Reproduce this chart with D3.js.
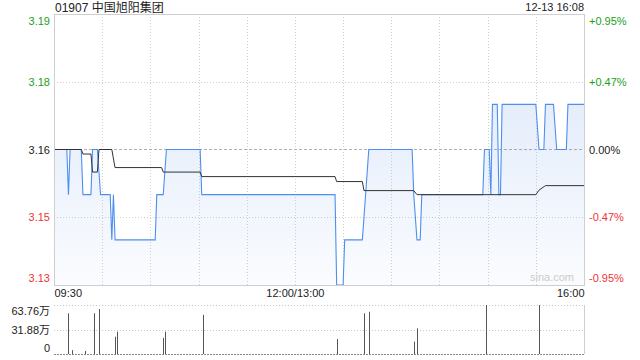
<!DOCTYPE html>
<html>
<head>
<meta charset="utf-8">
<script src="https://cdn.jsdelivr.net/npm/d3@7/dist/d3.min.js"></script>
<style>
  html, body { margin: 0; padding: 0; background: #fff; }
  svg { display: block; font-family: "Liberation Sans", Arial, sans-serif; }
  .tick line { display: none; }
</style>
</head>
<body>
<div class="chart"></div>
<script>
// minutes from 09:30 (lunch break removed, 330 = 16:00)
const priceTimes = [0, 8, 9, 10, 17, 18, 23, 24, 27, 29, 35, 36, 37, 38, 63, 64, 68, 70, 91, 92,
  175, 176, 180, 181, 192, 194, 196, 223, 224, 226, 228, 229, 267, 268, 271, 272, 273, 276,
  277, 278, 279, 300, 302, 305, 306, 311, 313, 319, 320, 330];
const priceValues = [3.16, 3.16, 3.15, 3.16, 3.16, 3.15, 3.15, 3.16, 3.16, 3.15, 3.15, 3.14, 3.15, 3.14, 3.14, 3.15, 3.15, 3.16, 3.16, 3.15,
  3.15, 3.13, 3.13, 3.14, 3.14, 3.15, 3.16, 3.16, 3.15, 3.14, 3.14, 3.15, 3.15, 3.16, 3.16, 3.15, 3.17, 3.17,
  3.15, 3.15, 3.17, 3.17, 3.16, 3.16, 3.17, 3.17, 3.16, 3.16, 3.17, 3.17];

const avgTimes = [0, 17, 18, 23, 24, 27, 28, 36, 38, 67, 68, 91, 92, 175, 176, 192, 193, 224, 226, 300, 302, 306, 330];
const avgValues = [3.16, 3.16, 3.159, 3.159, 3.155, 3.155, 3.16, 3.16, 3.156, 3.156, 3.155, 3.155, 3.154, 3.154, 3.1529, 3.1529, 3.1509, 3.1509, 3.15, 3.15, 3.151, 3.152, 3.152];

// volume in 万 shares
const volumeTimes = [9, 11, 19, 25, 28, 38, 39, 68, 69, 93, 176, 193, 196, 224, 226, 269, 302];
const volumeValues = [53, 5, 4, 53, 58.6, 22.5, 29, 21, 29, 51, 19.5, 53, 55, 16, 33.4, 63.76, 63.6];

const priceTicks = [3.19, 3.175, 3.16, 3.145, 3.13];
const priceTickLabels = ['3.19', '3.18', '3.16', '3.15', '3.13'];
const pctTickLabels = ['+0.95%', '+0.47%', '0.00%', '-0.47%', '-0.95%'];
const timeTicks = [0, 150, 330];
const timeTickLabels = ['09:30', '12:00/13:00', '16:00'];
const volumeTicks = [63.76, 31.88, 0];
const volumeTickLabels = ['63.76万', '31.88万', '0'];

const title = '01907 中国旭阳集团';
const stamp = '12-13 16:08';

const width = 640;
const height = 360;
const plotLeft = 54;
const plotRight = 584;
const plotTop = 14;
const plotBottom = 285;
const volTop = 305;
const volBottom = 354;

const green = '#1a9f1a';
const red = '#f03535';
const labelColor = (i) => (i < 2 ? green : i > 2 ? red : '#222');

const svg = d3
  .select('.chart')
  .append('svg')
  .attr('width', width)
  .attr('height', height);

const x = d3.scaleLinear().domain([0, 330]).range([plotLeft, plotRight]);
const y = d3.scaleLinear().domain([3.13, 3.19]).range([plotBottom, plotTop]);
const yv = d3.scaleLinear().domain([0, 63.76]).range([volBottom, volTop]);

// fill gradient
const grad = svg
  .append('defs')
  .append('linearGradient')
  .attr('id', 'fillGrad')
  .attr('gradientUnits', 'userSpaceOnUse')
  .attr('x1', 0).attr('x2', 0)
  .attr('y1', plotTop).attr('y2', plotBottom);
grad.append('stop').attr('offset', 0).attr('stop-color', '#5a8fe6').attr('stop-opacity', 0.22);
grad.append('stop').attr('offset', 1).attr('stop-color', '#5a8fe6').attr('stop-opacity', 0.03);

// grid
const grid = svg.append('g');
d3.range(30, 330, 30).forEach((m) => {
  grid.append('line')
    .attr('x1', Math.round(x(m)) + 0.5).attr('x2', Math.round(x(m)) + 0.5)
    .attr('y1', plotTop).attr('y2', plotBottom)
    .attr('stroke', '#d0d0d0').attr('stroke-dasharray', '1,2');
});
[3.175, 3.145].forEach((p) => {
  grid.append('line')
    .attr('x1', plotLeft).attr('x2', plotRight)
    .attr('y1', Math.round(y(p)) + 0.5).attr('y2', Math.round(y(p)) + 0.5)
    .attr('stroke', '#d0d0d0').attr('stroke-dasharray', '1,2');
});
grid.append('line')
  .attr('x1', plotLeft).attr('x2', plotRight)
  .attr('y1', Math.round(y(3.16)) + 0.5).attr('y2', Math.round(y(3.16)) + 0.5)
  .attr('stroke', '#b0b0b0').attr('stroke-dasharray', '3,2');

const pricePts = priceTimes.map((t, i) => [t, priceValues[i]]);
const avgPts = avgTimes.map((t, i) => [t, avgValues[i]]);

svg.append('path')
  .datum(pricePts)
  .attr('fill', 'url(#fillGrad)')
  .attr('d', d3.area().x((d) => x(d[0])).y0(plotBottom).y1((d) => y(d[1])));

svg.append('path')
  .datum(pricePts)
  .attr('fill', 'none')
  .attr('stroke', '#4d8ff0')
  .attr('stroke-width', 1.1)
  .attr('d', d3.line().x((d) => x(d[0])).y((d) => y(d[1])));

svg.append('path')
  .datum(avgPts)
  .attr('fill', 'none')
  .attr('stroke', '#333')
  .attr('stroke-width', 1)
  .attr('d', d3.line().x((d) => x(d[0])).y((d) => y(d[1])));

// frame
svg.append('rect')
  .attr('x', plotLeft + 0.5).attr('y', plotTop + 0.5)
  .attr('width', plotRight - plotLeft).attr('height', plotBottom - plotTop)
  .attr('fill', 'none').attr('stroke', '#cfcfcf');

svg.append('text')
  .attr('x', plotRight - 10).attr('y', plotBottom - 4)
  .attr('text-anchor', 'end')
  .attr('font-size', 11)
  .attr('fill', '#cccccc')
  .text('sina.com');

// price axes
const leftAxis = svg.append('g')
  .attr('transform', `translate(${plotLeft},0)`)
  .call(d3.axisLeft(y).tickValues(priceTicks).tickFormat((d, i) => priceTickLabels[i]).tickSize(0).tickPadding(4));
leftAxis.select('.domain').remove();
leftAxis.selectAll('text')
  .attr('font-size', 11)
  .attr('font-family', '"Liberation Sans", Arial, sans-serif')
  .attr('fill', (d, i) => labelColor(i))
  .attr('dy', (d, i) => (i === 0 ? '0.95em' : i === 4 ? '-0.3em' : '0.32em'));

const rightAxis = svg.append('g')
  .attr('transform', `translate(${plotRight},0)`)
  .call(d3.axisRight(y).tickValues(priceTicks).tickFormat((d, i) => pctTickLabels[i]).tickSize(0).tickPadding(5));
rightAxis.select('.domain').remove();
rightAxis.selectAll('text')
  .attr('font-size', 11)
  .attr('font-family', '"Liberation Sans", Arial, sans-serif')
  .attr('fill', (d, i) => labelColor(i))
  .attr('dy', (d, i) => (i === 0 ? '0.95em' : i === 4 ? '-0.3em' : '0.32em'));

const timeAxis = svg.append('g')
  .attr('transform', `translate(0,${plotBottom})`)
  .call(d3.axisBottom(x).tickValues(timeTicks).tickFormat((d, i) => timeTickLabels[i]).tickSize(0).tickPadding(4));
timeAxis.select('.domain').remove();
timeAxis.selectAll('text')
  .attr('font-size', 11)
  .attr('font-family', '"Liberation Sans", Arial, sans-serif')
  .attr('fill', '#222')
  .attr('text-anchor', (d, i) => (i === 0 ? 'start' : i === 2 ? 'end' : 'middle'));

// volume panel
[volTop, (volTop + volBottom) / 2].forEach((yy) => {
  svg.append('line')
    .attr('x1', plotLeft).attr('x2', plotRight)
    .attr('y1', Math.round(yy) + 0.5).attr('y2', Math.round(yy) + 0.5)
    .attr('stroke', '#c8c8c8').attr('stroke-dasharray', '1,2');
});
svg.append('line')
  .attr('x1', plotLeft).attr('x2', plotRight)
  .attr('y1', volBottom + 0.5).attr('y2', volBottom + 0.5)
  .attr('stroke', '#888').attr('stroke-dasharray', '2,1');
svg.append('line')
  .attr('x1', plotRight + 0.5).attr('x2', plotRight + 0.5)
  .attr('y1', volTop).attr('y2', volBottom)
  .attr('stroke', '#cfcfcf');

svg.append('g')
  .selectAll('rect')
  .data(volumeTimes.map((t, i) => [t, volumeValues[i]]))
  .enter()
  .append('rect')
  .attr('x', (d) => Math.round(x(d[0])))
  .attr('width', 1)
  .attr('y', (d) => yv(d[1]))
  .attr('height', (d) => volBottom - yv(d[1]))
  .attr('fill', '#555');

const volAxis = svg.append('g')
  .attr('transform', `translate(${plotLeft},0)`)
  .call(d3.axisLeft(yv).tickValues(volumeTicks).tickFormat((d, i) => volumeTickLabels[i]).tickSize(0).tickPadding(4));
volAxis.select('.domain').remove();
volAxis.selectAll('text')
  .attr('font-size', 11)
  .attr('font-family', '"Liberation Sans", "Noto Sans CJK SC", Arial, sans-serif')
  .attr('fill', '#222')
  .attr('dy', (d, i) => (i === 0 ? '0.85em' : i === 2 ? '-0.2em' : '0.32em'));

// header
svg.append('text')
  .attr('x', plotLeft + 1).attr('y', 12)
  .attr('font-size', 12)
  .attr('font-family', '"Liberation Sans", "Noto Sans CJK SC", sans-serif')
  .attr('fill', '#222')
  .text(title);

svg.append('text')
  .attr('x', plotRight).attr('y', 11)
  .attr('text-anchor', 'end')
  .attr('font-size', 11)
  .attr('fill', '#222')
  .text(stamp);
</script>
</body>
</html>
